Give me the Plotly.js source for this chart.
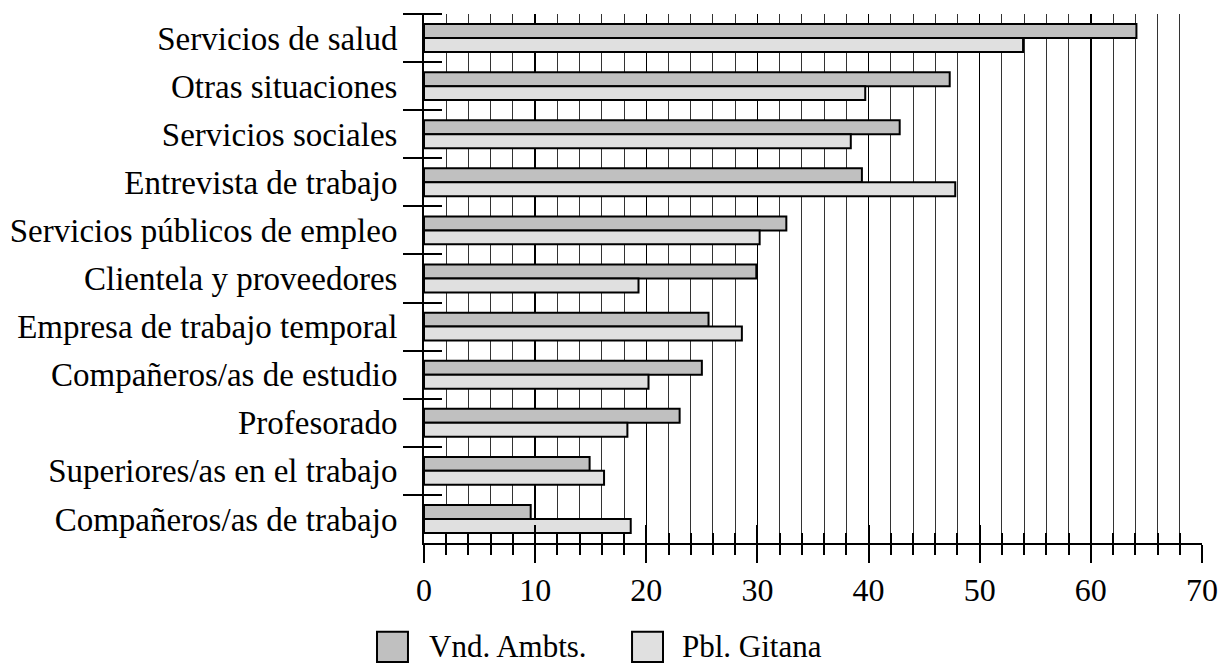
<!DOCTYPE html>
<html>
<head>
<meta charset="utf-8">
<script src="https://cdn.plot.ly/plotly-3.0.1.min.js"></script>
<style>html,body{margin:0;padding:0;background:#fff;}#chart{width:1219px;height:664px;}</style>
</head>
<body>
<div id="chart"></div>
<script>
const categories = [
  "Servicios de salud",
  "Otras situaciones",
  "Servicios sociales",
  "Entrevista de trabajo",
  "Servicios públicos de empleo",
  "Clientela y proveedores",
  "Empresa de trabajo temporal",
  "Compañeros/as de estudio",
  "Profesorado",
  "Superiores/as en el trabajo",
  "Compañeros/as de trabajo"
];
const seriesNames = ["Vnd. Ambts.", "Pbl. Gitana"];
const vndAmbts = [64.1, 47.3, 42.8, 39.4, 32.6, 29.9, 25.6, 25.0, 23.0, 14.9, 9.6];
const pblGitana = [53.9, 39.7, 38.4, 47.8, 30.2, 19.3, 28.6, 20.2, 18.3, 16.2, 18.6];
const xTickVals = [0, 10, 20, 30, 40, 50, 60, 70];

const FONT = "Liberation Serif, Times New Roman, serif";
const colors = ["#c0c0c0", "#e0e0e0"];

const traces = [
  {type: "bar", orientation: "h", name: seriesNames[0], y: categories, x: vndAmbts,
   marker: {color: colors[0], line: {color: "#000", width: 2}}, showlegend: false},
  {type: "bar", orientation: "h", name: seriesNames[1], y: categories, x: pblGitana,
   marker: {color: colors[1], line: {color: "#000", width: 2}}, showlegend: false},
  {type: "scatter", mode: "none", x: categories.map(() => null), y: categories,
   xaxis: "x2", yaxis: "y2", showlegend: false, hoverinfo: "skip"}
];

const catRange = [categories.length - 0.5, -0.5];
const plotW = 1219 - 424 - 17;

// custom legend (paper coordinates)
const legendY0 = -0.168, legendY1 = -0.225;
const legendItems = [
  {x0: -0.0604, x1: -0.0206, tx: 0.0039},
  {x0: 0.2674, x1: 0.3072, tx: 0.329}
];
const shapes = legendItems.map((it, i) => ({
  type: "rect", xref: "paper", yref: "paper",
  x0: it.x0, x1: it.x1, y0: legendY0, y1: legendY1,
  fillcolor: colors[i], line: {color: "#000", width: 2}
}));
// top boundary tick of the category axis
shapes.push({type: "line", xref: "paper", yref: "paper",
  x0: -19 / plotW, x1: 18 / plotW, y0: 1, y1: 1, line: {color: "#000", width: 2}});

const annotations = legendItems.map((it, i) => ({
  xref: "paper", yref: "paper", x: it.tx, y: (legendY0 + legendY1) / 2,
  xanchor: "left", yanchor: "middle", showarrow: false,
  text: seriesNames[i], font: {family: FONT, size: 31, color: "#000"}
}));

const layout = {
  width: 1219, height: 664,
  margin: {l: 424, r: 17, t: 14, b: 121, pad: 0},
  paper_bgcolor: "#fff", plot_bgcolor: "#fff",
  barmode: "group", bargap: 0.42, bargroupgap: 0,
  font: {family: FONT, size: 32, color: "#000"},
  xaxis: {
    range: [0, 70], tickvals: xTickVals, ticktext: xTickVals.map(String),
    ticks: "outside", ticklen: 18, tickwidth: 2, tickcolor: "#000",
    showline: true, linecolor: "#000", linewidth: 2,
    showgrid: true, gridcolor: "#000", gridwidth: 1.5, zeroline: false,
    minor: {dtick: 2, tick0: 0, ticks: "outside", ticklen: 10, tickwidth: 2, tickcolor: "#000",
            showgrid: true, gridcolor: "#333", gridwidth: 1},
    tickfont: {family: FONT, size: 32, color: "#000"},
    fixedrange: true
  },
  xaxis2: {
    overlaying: "x", anchor: "y2", side: "bottom", range: [0, 70],
    tickvals: xTickVals, showticklabels: false,
    ticks: "inside", ticklen: 18, tickwidth: 2, tickcolor: "#000",
    minor: {dtick: 2, tick0: 0, ticks: "inside", ticklen: 10, tickwidth: 2, tickcolor: "#000", showgrid: false},
    showgrid: false, zeroline: false, showline: false, fixedrange: true
  },
  yaxis: {
    type: "category", categoryarray: categories, categoryorder: "array", range: catRange,
    ticks: "outside", tickson: "boundaries", ticklen: 19, tickwidth: 2, tickcolor: "#000",
    ticklabelstandoff: 18,
    showline: true, linecolor: "#000", linewidth: 2, showgrid: false, zeroline: false,
    tickfont: {family: FONT, size: 33, color: "#000"},
    fixedrange: true
  },
  yaxis2: {
    type: "category", categoryarray: categories, categoryorder: "array", range: catRange,
    overlaying: "y", anchor: "free", position: 18 / plotW, side: "left",
    ticks: "outside", tickson: "boundaries", ticklen: 18, tickwidth: 2, tickcolor: "#000",
    showticklabels: false, showgrid: false, zeroline: false, showline: false, fixedrange: true
  },
  showlegend: false,
  shapes: shapes,
  annotations: annotations
};

Plotly.newPlot("chart", traces, layout, {displayModeBar: false, staticPlot: true});
</script>
</body>
</html>
